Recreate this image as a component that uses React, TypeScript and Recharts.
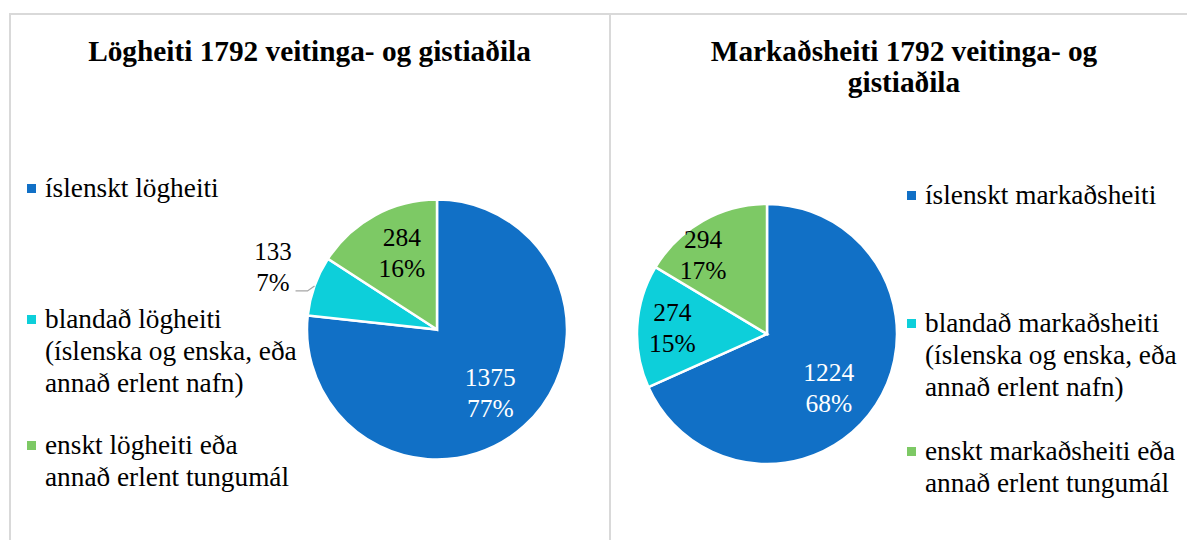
import React from "react";
import { PieChart, Pie, Cell } from "recharts";

const leftTitle = "Lögheiti 1792 veitinga- og gistiaðila";
const leftNames = [
  "íslenskt lögheiti",
  "blandað lögheiti\n(íslenska og enska, eða\nannað erlent nafn)",
  "enskt lögheiti eða\nannað erlent tungumál",
];
const leftValues = [1375, 133, 284];
const leftPercents = [77, 7, 16];

const rightTitle = "Markaðsheiti 1792 veitinga- og\ngistiaðila";
const rightNames = [
  "íslenskt markaðsheiti",
  "blandað markaðsheiti\n(íslenska og enska, eða\nannað erlent nafn)",
  "enskt markaðsheiti eða\nannað erlent tungumál",
];
const rightValues = [1224, 274, 294];
const rightPercents = [68, 15, 17];

const COLORS = ["#1170C6", "#0DCFDA", "#7DC965"];
const LABEL_TEXT = ["#ffffff", "#000000", "#000000"];
const FONT = '"Liberation Serif", "Times New Roman", serif';
const RAD = Math.PI / 180;

interface PanelProps {
  title: string;
  names: string[];
  values: number[];
  percents: number[];
  left: number;
  width: number;
  cx: number;
  cy: number;
  labelFactors: number[];
  labelShift: number[];
  titleShift: number;
  legendX: number;
  legendTops: number[];
}

function PiePanel(p: PanelProps) {
  const data = p.names.map((name, i) => ({ name, value: p.values[i] }));
  const total = p.values.reduce((s, v) => s + v, 0);

  const renderLabel = (props: any) => {
    const { cx, cy, midAngle, outerRadius, index, value } = props;
    const pct = p.percents[index];
    if (value / total < 0.1) {
      // small slice: label outside with a leader line
      const a = -midAngle * RAD;
      const ex = cx + outerRadius * Math.cos(a);
      const ey = cy + outerRadius * Math.sin(a);
      const tx = ex - 41.5;
      return (
        <g>
          <path
            d={`M${ex},${ey} L${ex - 7},${ey + 5} L${ex - 19},${ey + 5}`}
            stroke="#a6a6a6"
            strokeWidth={1.3}
            fill="none"
          />
          <text x={tx} y={ey + 5} textAnchor="middle" fill="#000" fontSize={25} fontFamily={FONT}>
            <tspan x={tx} dy={-31}>{value}</tspan>
            <tspan x={tx} dy={31}>{pct}%</tspan>
          </text>
        </g>
      );
    }
    const a = -(midAngle + p.labelShift[index]) * RAD;
    const r = outerRadius * p.labelFactors[index];
    const x = cx + r * Math.cos(a);
    const y = cy + r * Math.sin(a);
    return (
      <text x={x} y={y} textAnchor="middle" fill={LABEL_TEXT[index]} fontSize={25.5} fontFamily={FONT}>
        <tspan x={x} dy={-7}>{value}</tspan>
        <tspan x={x} dy={31}>{pct}%</tspan>
      </text>
    );
  };

  return (
    <div
      style={{
        position: "absolute",
        left: p.left,
        top: 13,
        width: p.width,
        height: 527,
        borderTop: "2px solid #d9d9d9",
        borderLeft: "2px solid #d9d9d9",
        boxSizing: "border-box",
      }}
    >
      <div
        style={{
          position: "absolute",
          left: -2 + p.titleShift,
          top: 21,
          width: p.width,
          textAlign: "center",
          fontFamily: FONT,
          fontWeight: "bold",
          fontSize: 29.3,
          lineHeight: "31px",
          whiteSpace: "pre-line",
          color: "#000",
        }}
      >
        {p.title}
      </div>
      <div style={{ position: "absolute", left: -2, top: -2 }}>
        <PieChart width={p.width} height={527} margin={{ top: 0, right: 0, bottom: 0, left: 0 }}>
          <Pie
            data={data}
            dataKey="value"
            nameKey="name"
            cx={p.cx}
            cy={p.cy}
            outerRadius={130}
            startAngle={90}
            endAngle={-270}
            stroke="#ffffff"
            strokeWidth={2.5}
            label={renderLabel}
            labelLine={false}
            isAnimationActive={false}
          >
            {data.map((d, i) => (
              <Cell key={d.name} fill={COLORS[i]} />
            ))}
          </Pie>
        </PieChart>
      </div>
      {p.names.map((name, i) => (
        <div
          key={name}
          style={{
            position: "absolute",
            left: p.legendX - 2,
            top: p.legendTops[i] - 2,
            fontFamily: FONT,
            fontSize: 27.3,
            lineHeight: "32px",
            whiteSpace: "pre-line",
            color: "#000",
          }}
        >
          <span
            style={{
              position: "absolute",
              left: -18,
              top: 12,
              width: 9,
              height: 9,
              background: COLORS[i],
            }}
          />
          {name}
        </div>
      ))}
    </div>
  );
}

export default function App() {
  return (
    <div
      style={{
        position: "absolute",
        left: 0,
        top: 0,
        width: 1187,
        height: 540,
        overflow: "hidden",
        background: "#ffffff",
      }}
    >
      <PiePanel
        title={leftTitle}
        names={leftNames}
        values={leftValues}
        percents={leftPercents}
        left={9}
        width={601}
        cx={428}
        cy={316.5}
        labelFactors={[0.64, 0.72, 0.65]}
        labelShift={[-2, 0, -4]}
        titleShift={0}
        legendX={36}
        legendTops={[159, 290, 416]}
      />
      <PiePanel
        title={rightTitle}
        names={rightNames}
        values={rightValues}
        percents={rightPercents}
        left={609}
        width={588}
        cx={158}
        cy={321}
        labelFactors={[0.63, 0.73, 0.78]}
        labelShift={[-8, 0, 9.5]}
        titleShift={1}
        legendX={316}
        legendTops={[166, 294, 422]}
      />
    </div>
  );
}
